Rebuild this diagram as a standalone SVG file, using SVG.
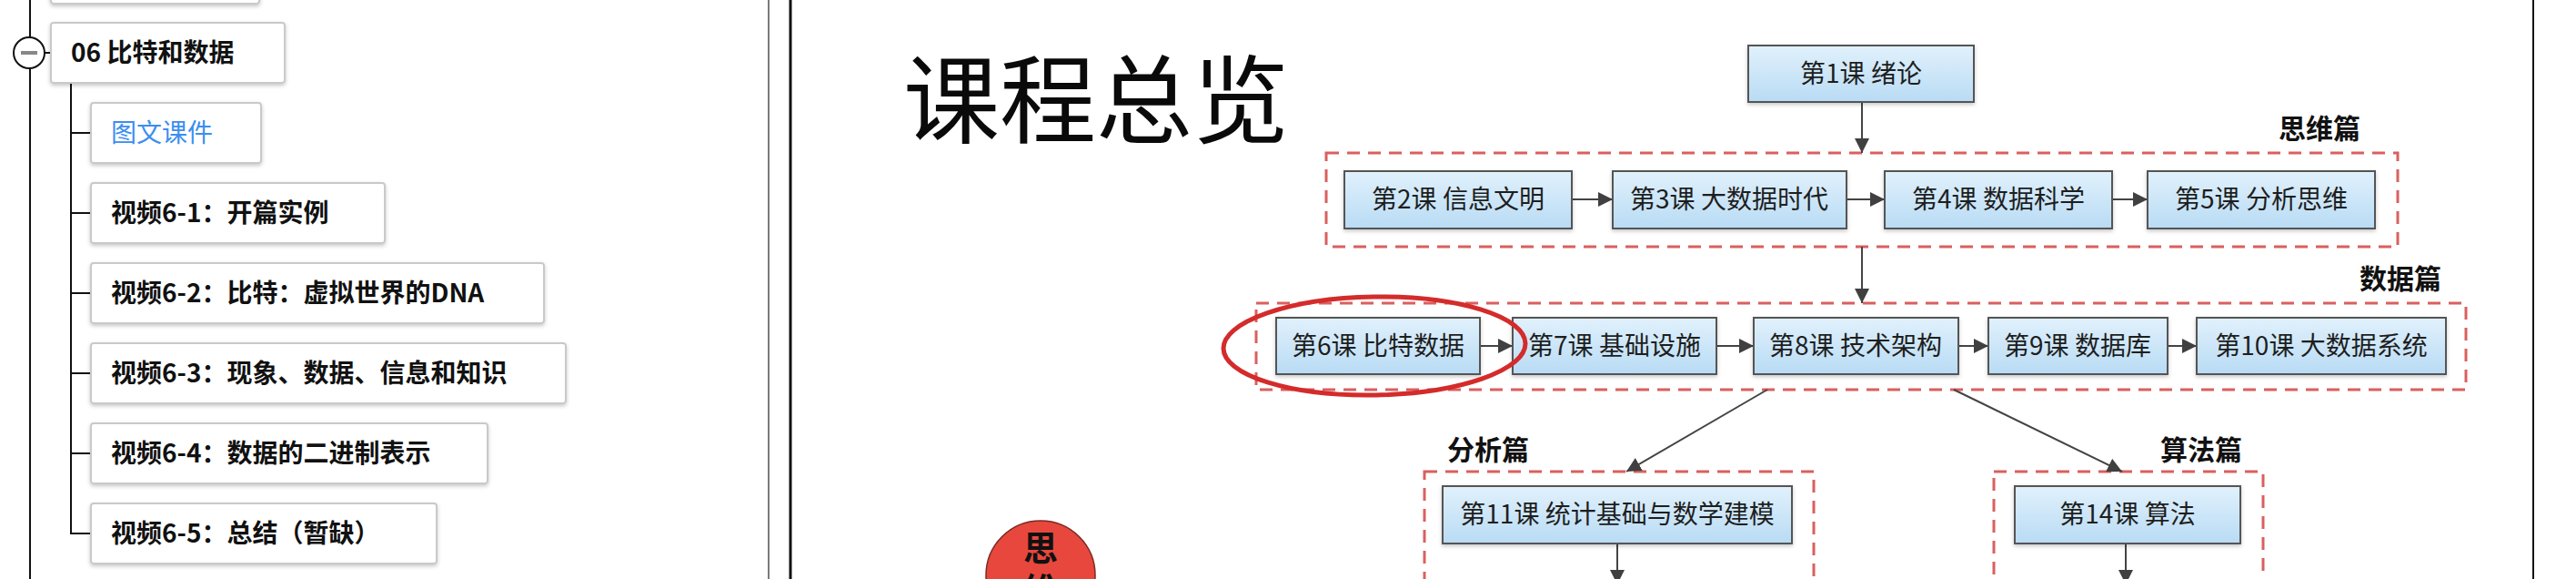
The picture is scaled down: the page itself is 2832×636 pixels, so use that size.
<svg xmlns="http://www.w3.org/2000/svg" width="2832" height="636" viewBox="0 0 2832 636">
<style>
.tb{fill:#fff;stroke:#c9c9c9;stroke-width:2}
.tt{font-family:"Noto Sans CJK SC","Noto Sans",sans-serif;font-weight:700;font-size:28px;fill:#111}
.tl{stroke:#111;stroke-width:2;fill:none}
.lb{fill:url(#lg);stroke:#555;stroke-width:2}
.lt{font-family:"Noto Sans CJK SC","Noto Sans",sans-serif;font-size:28px;fill:#1e1e1e;text-anchor:middle}
.grp{fill:none;stroke:#d9605f;stroke-width:3;stroke-dasharray:14 9}
.hd{font-family:"Noto Sans CJK SC","Noto Sans",sans-serif;font-weight:700;font-size:30px;fill:#111}
.cn{stroke:#444;stroke-width:2;fill:none;marker-end:url(#ah)}
</style>
<defs>
<linearGradient id="lg" x1="0" y1="0" x2="0" y2="1">
<stop offset="0" stop-color="#e1f1fc"/>
<stop offset="1" stop-color="#b8dbf4"/>
</linearGradient>
<filter id="sh" x="-10%" y="-20%" width="120%" height="150%">
<feDropShadow dx="0" dy="2" stdDeviation="2" flood-color="#000" flood-opacity="0.22"/>
</filter>
<marker id="ah" viewBox="0 0 16 16" refX="16" refY="8" markerWidth="16" markerHeight="16" markerUnits="userSpaceOnUse" orient="auto">
<path d="M0,0 L16,8 L0,16 Z" fill="#404040"/>
</marker>
</defs>
<rect x="0" y="0" width="2832" height="636" fill="#fff"/>

<!-- left outline tree -->
<g id="tree-lines">
<line class="tl" x1="33" y1="0" x2="33" y2="636"/>
<line class="tl" x1="49" y1="58" x2="56" y2="58"/>
<path class="tl" d="M78,91 V586 H100"/>
<line class="tl" x1="78" y1="146" x2="100" y2="146"/>
<line class="tl" x1="78" y1="234" x2="100" y2="234"/>
<line class="tl" x1="78" y1="322" x2="100" y2="322"/>
<line class="tl" x1="78" y1="410" x2="100" y2="410"/>
<line class="tl" x1="78" y1="498" x2="100" y2="498"/>
</g>
<g id="prev-topic"><rect class="tb" filter="url(#sh)" x="56" y="-60" width="229" height="64" rx="3"/></g>
<g id="collapse-btn">
<circle cx="32" cy="58" r="17" fill="#fff" stroke="#111" stroke-width="2"/>
<line x1="23" y1="58" x2="41" y2="58" stroke="#888" stroke-width="4"/>
</g>
<g id="topic-06"><rect class="tb" filter="url(#sh)" x="56" y="25" width="257" height="66" rx="3"/><text class="tt" x="78" y="68">06 比特和数据</text></g>
<g id="n-tuwen"><rect class="tb" filter="url(#sh)" x="100" y="113" width="187" height="66" rx="3"/><text class="tt" x="122" y="156" style="fill:#3b8ef0;font-weight:400">图文课件</text></g>
<g id="n-v61"><rect class="tb" filter="url(#sh)" x="100" y="201" width="323" height="66" rx="3"/><text class="tt" x="122" y="244">视频6-1：开篇实例</text></g>
<g id="n-v62"><rect class="tb" filter="url(#sh)" x="100" y="289" width="498" height="66" rx="3"/><text class="tt" x="122" y="332">视频6-2：比特：虚拟世界的DNA</text></g>
<g id="n-v63"><rect class="tb" filter="url(#sh)" x="100" y="377" width="522" height="66" rx="3"/><text class="tt" x="122" y="420">视频6-3：现象、数据、信息和知识</text></g>
<g id="n-v64"><rect class="tb" filter="url(#sh)" x="100" y="465" width="436" height="66" rx="3"/><text class="tt" x="122" y="508">视频6-4：数据的二进制表示</text></g>
<g id="n-v65"><rect class="tb" filter="url(#sh)" x="100" y="553" width="380" height="66" rx="3"/><text class="tt" x="122" y="596">视频6-5：总结（暂缺）</text></g>

<!-- panel borders -->
<line x1="845" y1="0" x2="845" y2="636" stroke="#7a7a7a" stroke-width="2"/>
<line x1="869" y1="0" x2="869" y2="636" stroke="#111" stroke-width="3"/>
<line x1="2785" y1="0" x2="2785" y2="636" stroke="#111" stroke-width="2"/>

<!-- slide -->
<text x="993" y="149" font-family="'Noto Sans CJK SC','Noto Sans',sans-serif" font-size="106" fill="#0a0a0a">课程总览</text>

<g id="groups">
<rect class="grp" x="1458" y="168" width="1178" height="103"/>
<rect class="grp" x="1381" y="333" width="1330" height="95"/>
<rect class="grp" x="1566" y="518" width="428" height="140"/>
<rect class="grp" x="2192" y="518" width="296" height="140"/>
<text class="hd" x="2505" y="152">思维篇</text>
<text class="hd" x="2594" y="317">数据篇</text>
<text class="hd" x="1591" y="505">分析篇</text>
<text class="hd" x="2375" y="505">算法篇</text>
</g>

<g id="connectors">
<line class="cn" x1="2047" y1="112" x2="2047" y2="168"/>
<line class="cn" x1="1728" y1="219" x2="1773" y2="219"/>
<line class="cn" x1="2030" y1="219" x2="2072" y2="219"/>
<line class="cn" x1="2322" y1="219" x2="2361" y2="219"/>
<line class="cn" x1="2047" y1="271" x2="2047" y2="333"/>
<line class="cn" x1="1627" y1="380" x2="1663" y2="380"/>
<line class="cn" x1="1887" y1="380" x2="1928" y2="380"/>
<line class="cn" x1="2153" y1="380" x2="2186" y2="380"/>
<line class="cn" x1="2383" y1="380" x2="2415" y2="380"/>
<line class="cn" x1="1943" y1="428" x2="1788" y2="518"/>
<line class="cn" x1="2148" y1="428" x2="2333" y2="518"/>
<line class="cn" x1="1778" y1="597" x2="1778" y2="642"/>
<line class="cn" x1="2337" y1="597" x2="2337" y2="642"/>
</g>

<g id="l1"><rect class="lb" filter="url(#sh)" x="1922" y="50" width="248" height="62"/><text class="lt" x="2046" y="91">第1课 绪论</text></g>
<g id="l2"><rect class="lb" filter="url(#sh)" x="1478" y="188" width="250" height="63"/><text class="lt" x="1603" y="229">第2课 信息文明</text></g>
<g id="l3"><rect class="lb" filter="url(#sh)" x="1773" y="188" width="257" height="63"/><text class="lt" x="1901" y="229">第3课 大数据时代</text></g>
<g id="l4"><rect class="lb" filter="url(#sh)" x="2072" y="188" width="250" height="63"/><text class="lt" x="2197" y="229">第4课 数据科学</text></g>
<g id="l5"><rect class="lb" filter="url(#sh)" x="2361" y="188" width="250" height="63"/><text class="lt" x="2486" y="229">第5课 分析思维</text></g>
<g id="l6"><rect class="lb" filter="url(#sh)" x="1403" y="349" width="224" height="62"/><text class="lt" x="1515" y="390">第6课 比特数据</text></g>
<g id="l7"><rect class="lb" filter="url(#sh)" x="1663" y="349" width="224" height="62"/><text class="lt" x="1775" y="390">第7课 基础设施</text></g>
<g id="l8"><rect class="lb" filter="url(#sh)" x="1928" y="349" width="225" height="62"/><text class="lt" x="2040" y="390">第8课 技术架构</text></g>
<g id="l9"><rect class="lb" filter="url(#sh)" x="2186" y="349" width="197" height="62"/><text class="lt" x="2284" y="390">第9课 数据库</text></g>
<g id="l10"><rect class="lb" filter="url(#sh)" x="2415" y="349" width="274" height="62"/><text class="lt" x="2552" y="390">第10课 大数据系统</text></g>
<g id="l11"><rect class="lb" filter="url(#sh)" x="1586" y="534" width="384" height="63"/><text class="lt" x="1778" y="575">第11课 统计基础与数学建模</text></g>
<g id="l14"><rect class="lb" filter="url(#sh)" x="2215" y="534" width="248" height="63"/><text class="lt" x="2339" y="575">第14课 算法</text></g>

<g id="highlight">
<ellipse cx="1511" cy="380" rx="166" ry="54" fill="none" stroke="#d42b2b" stroke-width="5" transform="rotate(-1 1511 380)"/>
</g>

<g id="badge">
<circle cx="1144" cy="632" r="60" fill="#e8473d" stroke="#7a2a22" stroke-width="1.5"/>
<text text-anchor="middle" font-family="'Noto Sans CJK SC',sans-serif" font-weight="700" font-size="38" fill="#111"><tspan x="1144" y="616">思</tspan><tspan x="1144" y="662">维</tspan></text>
</g>
</svg>
